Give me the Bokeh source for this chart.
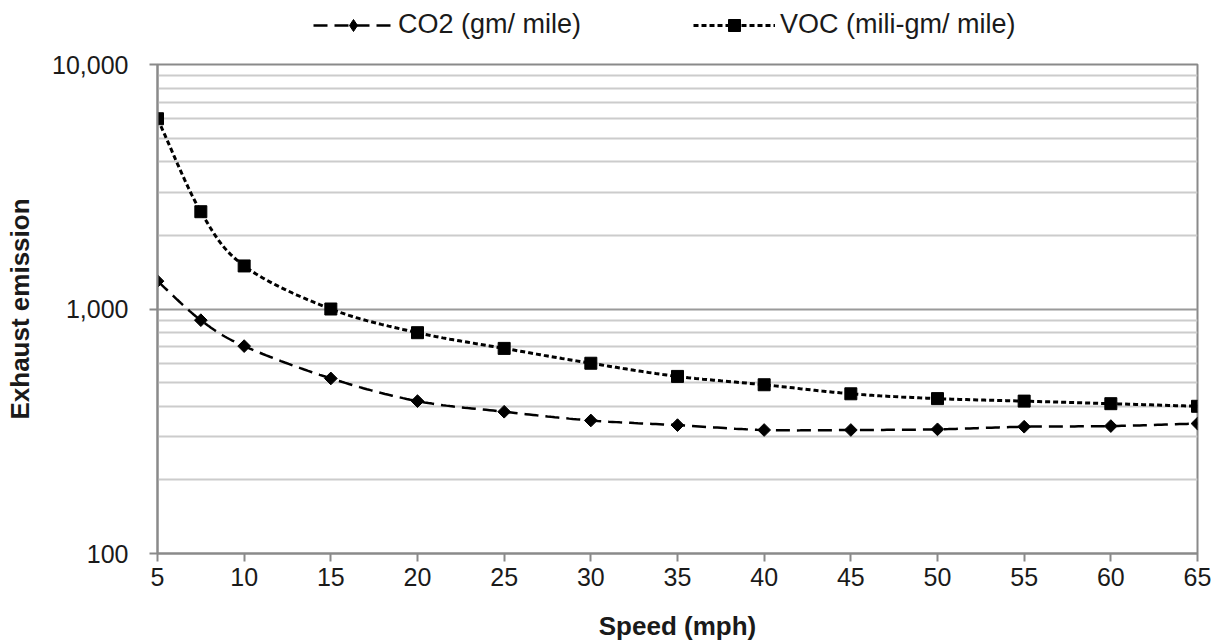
import numpy as np
from bokeh.plotting import figure
from bokeh.layouts import column
from bokeh.models import (Range1d, FixedTicker, NumeralTickFormatter, Legend, LegendItem)
from bokeh.embed import file_html
from bokeh.resources import INLINE

speed = [5, 7.5, 10, 15, 20, 25, 30, 35, 40, 45, 50, 55, 60, 65]
co2 = [1300, 900, 705, 520, 420, 380, 350, 335, 320, 320, 322, 330, 332, 340]
voc = [6000, 2500, 1500, 1000, 800, 690, 600, 530, 490, 450, 430, 420, 410, 400]
x_ticks = [5, 10, 15, 20, 25, 30, 35, 40, 45, 50, 55, 60, 65]
y_ticks = [100, 1000, 10000]
y_minor = [200, 300, 400, 500, 600, 700, 800, 900,
           2000, 3000, 4000, 5000, 6000, 7000, 8000, 9000]
label_co2 = "CO2 (gm/ mile)"
label_voc = "VOC (mili-gm/ mile)"

FONT = "Liberation Sans"
TXT = "#1a1a1a"

CO2_STYLE = dict(line_color="black", line_width=2.5, line_dash="14 7")
VOC_STYLE = dict(line_color="black", line_width=3, line_dash="5 3")
CO2_MARK = dict(marker="square", angle=np.pi / 4, size=9, color="black")
CO2_LEG_MARK = dict(marker="diamond", size=13, color="black")
VOC_MARK = dict(marker="square", size=12, color="black")


def smooth(xs, ys, n=24):
    """Catmull-Rom curve through the data points (in log-y space), for the drawn line only."""
    xs = np.asarray(xs, float)
    ly = np.log10(np.asarray(ys, float))
    px = np.concatenate([[2 * xs[0] - xs[1]], xs, [2 * xs[-1] - xs[-2]]])
    py = np.concatenate([[2 * ly[0] - ly[1]], ly, [2 * ly[-1] - ly[-2]]])
    ox, oy = [], []
    for i in range(1, len(px) - 2):
        t = np.linspace(0, 1, n, endpoint=False)
        for arr, out in ((px, ox), (py, oy)):
            p0, p1, p2, p3 = arr[i - 1], arr[i], arr[i + 1], arr[i + 2]
            out.extend(0.5 * ((2 * p1) + (-p0 + p2) * t +
                              (2 * p0 - 5 * p1 + 4 * p2 - p3) * t ** 2 +
                              (-p0 + 3 * p1 - 3 * p2 + p3) * t ** 3))
    ox.append(xs[-1])
    oy.append(ly[-1])
    return ox, list(10 ** np.asarray(oy))


# ---------- legend strip (top) ----------
lg = figure(width=1217, height=40, x_range=Range1d(0, 1), y_range=Range1d(0, 1),
            output_backend="svg", toolbar_location=None,
            min_border=0, min_border_left=0, min_border_right=0,
            min_border_top=0, min_border_bottom=0)
lg.axis.visible = False
lg.grid.visible = False
lg.outline_line_color = None
lg.background_fill_color = "white"
lg.border_fill_color = "white"
nan = [np.nan]
d1 = lg.line(nan, nan, **CO2_STYLE)
e1 = lg.scatter(nan, nan, **CO2_LEG_MARK)
d2 = lg.line(nan, nan, **VOC_STYLE)
e2 = lg.scatter(nan, nan, **VOC_MARK)
common = dict(orientation="horizontal", glyph_height=30, label_standoff=5,
              label_text_font=FONT, label_text_font_size="27px",
              label_text_color=TXT, border_line_color=None,
              background_fill_alpha=0, padding=0, margin=0)
lg.add_layout(Legend(items=[LegendItem(label=label_co2, renderers=[d1, e1])],
                     location=(156, 0), glyph_width=80, **common))
lg.add_layout(Legend(items=[LegendItem(label=label_voc, renderers=[d2, e2])],
                     location=(536, 0), glyph_width=82, **common))

# ---------- main chart ----------
p = figure(width=1217, height=604, y_axis_type="log",
           x_range=Range1d(5, 65), y_range=Range1d(100, 10000),
           output_backend="svg", toolbar_location=None,
           min_border_left=157, min_border_right=20,
           min_border_top=24, min_border_bottom=91)
p.background_fill_color = "white"
p.border_fill_color = "white"
p.outline_line_color = "#8a8a8a"
p.outline_line_width = 2

p.xaxis.ticker = FixedTicker(ticks=x_ticks)
p.yaxis.ticker = FixedTicker(ticks=y_ticks, minor_ticks=y_minor)
p.yaxis.formatter = NumeralTickFormatter(format="0,0")
for ax in (p.xaxis[0], p.yaxis[0]):
    ax.axis_line_color = "#8a8a8a"
    ax.axis_line_width = 2
    ax.major_tick_line_color = "#8a8a8a"
    ax.major_tick_line_width = 2
    ax.major_tick_out = 8
    ax.major_tick_in = 0
    ax.minor_tick_line_color = None
    ax.major_label_text_font = FONT
    ax.major_label_text_font_size = "25px"
    ax.major_label_text_color = TXT
    ax.axis_label_text_font = FONT
    ax.axis_label_text_font_size = "26px"
    ax.axis_label_text_font_style = "bold"
    ax.axis_label_text_color = TXT
p.xaxis.axis_label = "Speed (mph)"
p.yaxis.axis_label = "Exhaust emission"
p.xaxis.major_label_standoff = 6
p.yaxis.major_label_standoff = 21
p.xaxis.axis_label_standoff = 22
p.yaxis.axis_label_standoff = 14

p.xgrid.grid_line_color = None
p.ygrid.grid_line_color = "#9a9a9a"
p.ygrid.grid_line_width = 2
p.ygrid.minor_grid_line_color = "#cccccc"
p.ygrid.minor_grid_line_width = 2

cx, cy = smooth(speed, co2)
vx, vy = smooth(speed, voc)
p.line(cx, cy, **CO2_STYLE)
p.scatter(speed, co2, **CO2_MARK)
p.line(vx, vy, **VOC_STYLE)
p.scatter(speed, voc, **VOC_MARK)

layout = column(lg, p, spacing=0)
open("out.html", "w").write(file_html(layout, INLINE))
